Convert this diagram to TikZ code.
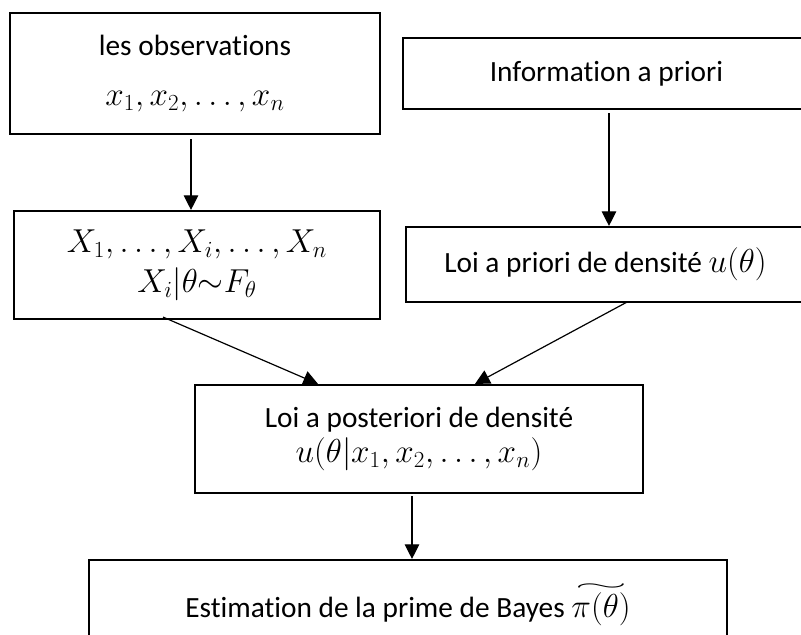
\documentclass[tikz,border=0pt]{standalone}
\usepackage{amsmath}
\usepackage{graphicx}
\usepackage{fontspec}
\setmainfont{Carlito}[Ligatures=NoCommon]
\usetikzlibrary{arrows.meta,calc}

% formulas are set larger than the running text
\newcommand{\mth}[1]{{\fontsize{25pt}{30pt}\selectfont$#1$}}
% wide flat tilde laid over an expression (text mode)
\newcommand{\wtilde}[1]{\ooalign{$#1$\cr
  \hidewidth\raisebox{0.8em}{\resizebox{1.6em}{0.2em}{$\sim$}}\hidewidth\cr}}
% box text: fixed baseline distance, no extra line skip
\newcommand{\boxfont}{\fontsize{22pt}{26pt}\selectfont
  \lineskiplimit=-20pt\relax\lineskip=0pt\relax}

\tikzset{
  box/.style={draw=black, line width=1.6pt, align=center, inner sep=0pt,
    font=\boxfont},
  arr/.style={draw=black, line width=0.9pt,
    -{Triangle[length=11pt,width=11pt]}},
  % box size given in pixels
  wh/.style 2 args={minimum width=#1*0.75pt, minimum height=#2*0.75pt},
}

\begin{document}
\begin{tikzpicture}[x=0.75pt, y=-0.75pt]
  \useasboundingbox (0,0) rectangle (801,635);
  \clip (0,0) rectangle (801,635);

  % boxes
  \node[box, wh={370}{121}] (obs) at (195,73.5)
    {les observations\\[11pt] \mth{x_1,x_2,\dots,x_n}};
  \node[box, wh={407}{71}] (info) at (606.5,73.5)
    {Information a priori};
  \node[box, wh={366}{108}] (dist) at (197,265)
    {\mth{X_1,\dots,X_i,\dots,X_n}\\[4pt] \mth{X_i|\theta\mathord{\sim}F_\theta}};
  \node[box, wh={399}{75}] (prior) at (605.5,264.5)
    {Loi a priori de densité \mth{u(\theta)}};
  \node[box, wh={448}{108}] (post) at (419,439)
    {Loi a posteriori de densité\\[0pt] \mth{u(\theta|x_1,x_2,\dots,x_n)}};
  \node[box, wh={638}{95}] (est) at (408,607.5)
    {Estimation de la prime de Bayes
     {\fontsize{25pt}{30pt}\selectfont\wtilde{\pi(\theta)}}};

  % connectors
  \draw[arr] ($(obs.south)+(-4,4)$) coordinate (a1) -- (a1 |- dist.north);
  \draw[arr] ($(info.south)+(2.5,3)$) coordinate (a2) -- (a2 |- prior.north);
  \draw[arr] ($(dist.south)+(-34,-3)$) -- ($(post.north)+(-101,0)$);
  \draw[arr] ($(prior.south)+(21.5,-1)$) -- ($(post.north)+(56,0)$);
  \draw[arr] ($(post.south)+(-7,2)$) coordinate (a5) -- (a5 |- est.north);
\end{tikzpicture}
\end{document}
